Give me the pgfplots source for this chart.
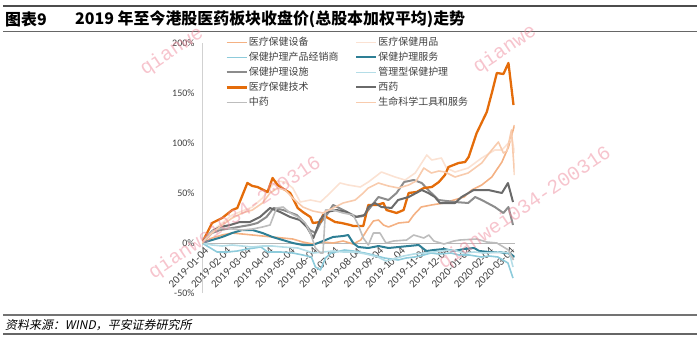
\documentclass[border=0pt]{standalone}
\usepackage{pgfplots}
\pgfplotsset{compat=1.18}
\usepackage{fontspec}
\setmainfont{Carlito}
\newfontfamily\cjk{Noto Sans CJK SC}
\newfontfamily\cjkit{Noto Sans CJK SC}[FakeSlant=0.2]
\newfontfamily\wm{Liberation Mono}
\definecolor{cA}{HTML}{F4B183}
\definecolor{cB}{HTML}{FBE2D3}
\definecolor{cC}{HTML}{8DCBDB}
\definecolor{cD}{HTML}{2E7F95}
\definecolor{cE}{HTML}{8C8C8C}
\definecolor{cF}{HTML}{B4DDE7}
\definecolor{cG}{HTML}{E46C0A}
\definecolor{cH}{HTML}{6A6A6A}
\definecolor{cI}{HTML}{BDBDBD}
\definecolor{cJ}{HTML}{F8CBAD}
\definecolor{txt}{HTML}{404040}
\definecolor{wmpink}{HTML}{EE8A9C}
\begin{document}
\begin{tikzpicture}
\useasboundingbox (0,0) rectangle (700bp,-343bp);
% frame
\draw[line width=1.6bp, color=black!70] (3bp,-6bp) -- (697bp,-6bp);
\draw[line width=0.8bp, color=black!60] (3bp,-31bp) -- (697bp,-31bp);
\node[anchor=west, inner sep=0pt, font=\cjk\bfseries\fontsize{16}{16}\selectfont] at (5bp,-19bp) {图表9};
\node[anchor=west, inner sep=0pt, font=\cjk\bfseries\fontsize{16}{16}\selectfont] at (75bp,-19bp) {2019 年至今港股医药板块收盘价(总股本加权平均)走势};
\draw[line width=1.6bp, color=black!55] (3bp,-315bp) -- (697bp,-315bp);
\draw[line width=1.2bp, color=black!60] (3bp,-334bp) -- (697bp,-334bp);
\node[anchor=west, inner sep=0pt, font=\cjkit\fontsize{12}{12}\selectfont] at (5bp,-325bp) {资料来源：WIND，平安证券研究所};
\begin{axis}[
  at={(202bp,-293bp)}, anchor=south west,
  scale only axis, width=312.5bp, height=250bp,
  xmin=0, xmax=62, ymin=-50, ymax=200,
  enlargelimits=false,
  axis x line=middle, axis y line=left,
  hide obscured x ticks=false,
  axis line style={-},
  x axis line style={color=black!28, line width=0.8bp},
  y axis line style={color=black!18, line width=0.8bp},
  major tick length=0pt,
  /pgf/number format/assume math mode=true,
  ytick={-50,0,50,100,150,200},
  yticklabel={\pgfmathprintnumber{\tick}\%},
  yticklabel style={font=\fontsize{10}{10}\selectfont, color=txt, xshift=-4bp},
  xtick={0,4.4286,8.4286,12.857,17.143,21.571,25.857,30.286,34.714,39,43.429,47.714,52.143,56.571,60.714},
  xticklabels={2019-01-04,2019-02-04,2019-03-04,2019-04-04,2019-05-04,2019-06-04,2019-07-04,2019-08-04,2019-09-04,2019-10-04,2019-11-04,2019-12-04,2020-01-04,2020-02-04,2020-03-04},
  xticklabel style={font=\fontsize{11}{11}\selectfont, color=txt, rotate=45, anchor=north east, inner sep=1bp, yshift=-3bp},
  legend columns=2,
  legend cell align=left,
  legend style={draw=none, fill=none, at={(0.065,1.035)}, anchor=north west,
    font=\cjk\fontsize{10}{10}\selectfont, text=txt,
    nodes={inner sep=1bp, text height=8bp, text depth=2bp},
    row sep=3bp,
    /tikz/every even column/.append style={column sep=16bp}},
  legend image code/.code={\draw[#1] (0bp,0bp) -- (20bp,0bp);},
  every axis plot/.append style={line width=1.6bp, line join=round},
]
\addplot[cA, no marks] coordinates {(0,0)(2,5)(4,8)(6,10)(8,9)(10,8)(12,7)(14,6)(16,5)(18,4)(20,1)(22,-1)(24,1)(26,0)(28,2)(30,-1)(31.5,3)(33,15)(34,22)(35,23)(36,18)(37,16)(39,20)(41,21)(42,28)(43.5,36)(45.5,38)(48,40)(50,43)(52,46)(53.5,53)(55.5,58)(57.5,66)(59.5,81)(60.8,96)(62,118)};
\addlegendentry{医疗保健设备}
\addplot[cB, no marks] coordinates {(0,0)(2,12)(4,20)(6,28)(8,32)(10,36)(12,45)(14,58)(15,62)(16.5,61)(18,55)(19.5,41)(21.5,43)(23.5,41)(25,48)(27.4,60)(29,58)(31.4,56)(33,61)(35.6,71)(38.3,66)(40.3,63)(42.3,70)(44.6,88)(45.6,83)(47.5,85)(48.5,75)(50.2,71)(52.8,75)(55.5,85)(58.1,93)(59.5,93)(60.8,100)(61.5,105)(62,90)};
\addlegendentry{医疗保健用品}
\addplot[cC, no marks] coordinates {(0,0)(1,-3)(3,-9)(5,-9)(7,-8)(9,-6)(11.7,-4)(13,-9)(15.7,-9)(18,-10)(20,-12)(21.7,-14)(22.5,-24)(23.5,-27)(24.5,-15)(25.6,-10)(28.3,-7)(30,-8)(32.3,-10)(34,-12)(36.2,-15)(38.9,-17)(40.5,-15)(42.2,-14)(44,-12)(45.4,-10)(47,-11)(49.4,-10)(51,-12)(53,-12)(55.4,-14)(57,-13)(58.7,-14)(60.7,-20)(61.7,-35)};
\addlegendentry{保健护理产品经销商}
\addplot[cD, no marks, line width=2bp] coordinates {(0,0)(2,3)(4,6)(6,10)(8,13)(10,13)(12,10)(14,6)(16,3)(18,0)(20,-2)(22,-2)(24,2)(26,6)(28,7)(29,8)(30,0)(31,-4)(33,-5)(35,-3)(37,-5)(39,-4)(41,-3)(43,-2)(44.5,-8)(46,-7)(48,-6)(50,-8)(52,-6)(54,-5)(55,-8)(57,-9)(59,-9)(60,-10)(61,-10)(62,-14)};
\addlegendentry{保健护理服务}
\addplot[cE, no marks, line width=2bp] coordinates {(0,0)(2,10)(3.6,13)(6,15)(9.5,18)(11,20)(12.8,26)(14.2,35)(16.1,33)(18.8,28)(20,22)(21.4,13)(22.5,10)(23.5,20)(25,30)(26,38)(28,33)(30.7,26)(32,27)(33,33)(35,46)(37,43)(38.6,50)(40.1,61)(42,63)(43.6,60)(44.9,53)(46.9,43)(50.2,41)(52.8,40)(54.2,46)(55.5,43)(58.1,36)(59.8,30)(60.8,36)(61.7,18)};
\addlegendentry{保健护理设施}
\addplot[cF, no marks] coordinates {(0,0)(2,-2)(4,-3)(6,-2)(8,-3)(10,-4)(12,-3)(14,-3)(16,-4)(19,-5)(22.1,-10)(24,-9)(26,-8)(28,-9)(30.3,-9)(32.5,-11)(34.9,-14)(36.5,-18)(38,-16)(40,-13)(42,-11)(44,-10)(46,-9)(48.8,-7)(50.5,-8)(52,-10)(54,-9)(56,-10)(58.7,-9)(61,-10)(61.7,-24)};
\addlegendentry{管理型保健护理}
\addplot[cG, no marks, line width=2.3bp] coordinates {(0,0)(2,20)(4,25)(6,33)(7,35)(9,60)(10,57)(11,56)(13,51)(14,65)(15,58)(16.5,53)(17.5,50)(19,35)(20,31)(21.5,26)(22,20)(23.5,21)(24,28)(25,25)(26.4,21)(27.7,20)(29.4,18)(30,17)(32,17)(33,38)(34.7,38)(36,40)(36.6,33)(38.6,30)(40,33)(41,50)(42.6,51)(44,55)(45.6,56)(47,61)(48.2,68)(48.9,76)(50.9,80)(52.2,81)(52.9,86)(54.5,110)(56.5,131)(57.5,150)(58.5,170)(59.8,169)(60.8,180)(61.8,138)};
\addlegendentry{医疗保健技术}
\addplot[cH, no marks, line width=2bp] coordinates {(0,0)(2,12)(3.6,16)(5.6,18)(7.5,21)(9.5,21)(11.5,26)(13.5,35)(15.5,31)(17.5,26)(19.4,23)(20.8,16)(22.1,5)(23.4,23)(24.7,31)(26.7,33)(28.7,31)(30.4,26)(32.3,28)(33,36)(34.3,40)(35.6,36)(37.6,35)(38.9,43)(41,46)(43.6,53)(44.9,50)(46.2,46)(47.2,40)(50.2,40)(51.5,46)(53.9,53)(56.8,53)(59.5,50)(60.7,60)(61.7,41)};
\addlegendentry{西药}
\addplot[cI, no marks] coordinates {(0,0)(2,12)(4,15)(6,14)(8,13)(10,14)(12,16)(13.5,18)(14.8,35)(16.1,36)(17.5,30)(19,26)(20.5,20)(21.5,10)(22.5,-5)(23.5,-10)(24,-10)(24.5,33)(26,33)(28,30)(30,28)(31,18)(32,5)(33,-2)(34,10)(35.3,10)(36.5,0)(38,2)(40.6,3)(42,8)(44,5)(45,8)(46,2)(48,-1)(50,2)(51.2,3)(54.5,4)(56.5,1)(58.5,0)(60.8,-7)(61.8,-17)};
\addlegendentry{中药}
\addplot[cJ, no marks] coordinates {(0,0)(2,10)(4,18)(6,25)(8,30)(10,33)(12,40)(13.5,50)(15,55)(16.5,53)(18,45)(20,36)(22,32)(24,30)(26,35)(28,40)(30.4,43)(32,50)(33,55)(35,60)(37,57)(39,55)(41,58)(42.5,62)(44,75)(45.5,70)(47,72)(48.2,71)(50.2,66)(52.8,70)(55.5,80)(57,90)(58.8,101)(59.8,90)(60.5,92)(61.4,113)(62,68)};
\addlegendentry{生命科学工具和服务}
\end{axis}
\begin{scope}[opacity=0.5]
\node[rotate=34, text=wmpink, font=\wm\fontsize{20}{20}\selectfont] at (235bp,-218bp) {qianwei034-200316};
\node[rotate=34, text=wmpink, font=\wm\fontsize{20}{20}\selectfont] at (525bp,-208bp) {qianwei034-200316};
\node[rotate=34, text=wmpink, font=\wm\fontsize{20}{20}\selectfont, anchor=base west, inner sep=0pt] at (145bp,-76bp) {qianwe};
\node[rotate=34, text=wmpink, font=\wm\fontsize{20}{20}\selectfont, anchor=base west, inner sep=0pt] at (478bp,-74bp) {qianwe};
\end{scope}
\end{tikzpicture}
\end{document}
